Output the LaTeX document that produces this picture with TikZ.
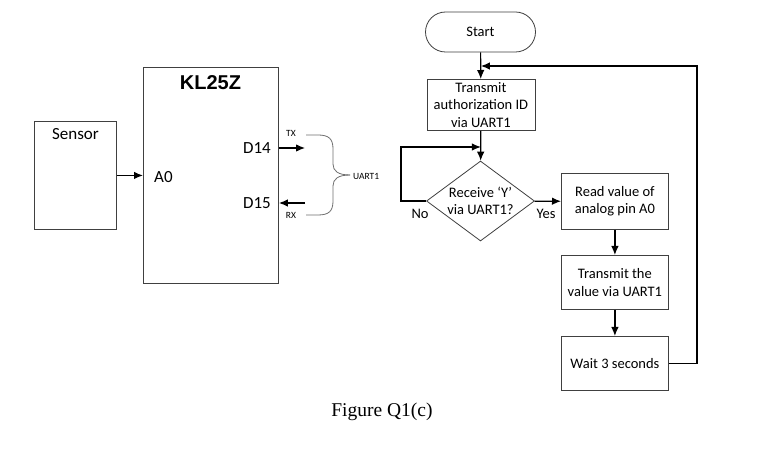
\documentclass[tikz,border=0pt]{standalone}
\usepackage{fontspec}
\setmainfont{Carlito}
\newfontfamily\arialfont{Liberation Sans}
\newfontfamily\timesfont{Liberation Serif}
\usetikzlibrary{arrows.meta,shapes.geometric,calc}
\definecolor{edge}{HTML}{404040}
\definecolor{bracegray}{HTML}{707070}

\begin{document}
\begin{tikzpicture}[
              x=1pt,
              y=-1pt,
              >={Latex[length=9pt,width=7.5pt]},
              hwbox/.style={draw=edge, line width=0.9pt, anchor=north west, inner sep=0pt},
              pinlabel/.style={inner sep=0pt, font=\fontsize{17}{20}\selectfont},
              chiplabel/.style={inner sep=0pt, font=\arialfont\bfseries\fontsize{20}{24}\selectfont},
              siglabel/.style={inner sep=0pt, font=\fontsize{9.5}{11}\selectfont},
              block/.style={draw=edge, line width=0.8pt, anchor=north west, align=center, inner sep=0pt, font=\fontsize{14.5}{17.5}\selectfont},
              terminal/.style={draw=edge, line width=0.8pt, rounded corners=20pt, minimum width=110, minimum height=40, inner sep=0pt, font=\fontsize{14.5}{17.5}\selectfont},
              decision/.style={draw=edge, line width=0.8pt, diamond, aspect=1.35, minimum width=108, minimum height=80, inner sep=-3pt, align=center, font=\fontsize{14.5}{17.5}\selectfont},
              flowlabel/.style={inner sep=0pt, font=\fontsize{14.5}{17.5}\selectfont},
              caption/.style={inner sep=0pt, font=\timesfont\fontsize{19.5}{23}\selectfont},
              arrow/.style={->, line width=1.2pt, color=black},
              bracepath/.style={draw=bracegray, line width=0.8pt}
            ]
            \useasboundingbox[fill=white] (0,0) rectangle (780,457);

            \node[hwbox, minimum width=82, minimum height=108,
                  label={[pinlabel, anchor=north, yshift=-7pt]north:Sensor}] (sensor) at (34,121) {};
            \node[hwbox, minimum width=135, minimum height=216] (mcu) at (143,67) {};
            \node[chiplabel] (mcuname) at (210.5,83) {KL25Z};
            \node[pinlabel, anchor=west] (a0) at (154,177) {A0};
            \node[pinlabel, anchor=east] (d14) at (271,148) {D14};
            \node[pinlabel, anchor=east] (d15) at (271,203) {D15};
            \node[siglabel] (tx) at (291,133) {TX};
            \node[siglabel] (rx) at (291,215) {RX};
            \node[siglabel, anchor=west] (uart) at (353,176) {UART1};

            \coordinate (txend) at (305,148);
            \coordinate (rxstart) at (305,203);

            \draw[arrow] (sensor.east) -- (mcu.west);
            \draw[arrow] (d14.east -| mcu.east) -- (txend);
            \draw[arrow] (rxstart) -- (d15.east -| mcu.east);

            \draw[bracepath] (306,135) -- (318,135) .. controls (329,135) and (333,139) .. (333,149)
              -- (333,164) .. controls (333,171) and (338,175) .. (350,175);
            \draw[bracepath] (306,215) -- (318,215) .. controls (329,215) and (333,211) .. (333,201)
              -- (333,186) .. controls (333,179) and (338,175) .. (350,175);

            \node[terminal] (start) at (480.5,32) {Start};
            \node[block, minimum width=108, minimum height=51] (sendid) at (426.5,79) {Transmit\\authorization ID\\via UART1};
            \node[decision] (recv) at (480.5,201) {Receive ‘Y’\\via UART1?};
            \node[block, minimum width=107, minimum height=56] (readpin) at (561,173) {Read value of\\analog pin A0};
            \node[block, minimum width=107, minimum height=54] (sendval) at (561,255) {Transmit the\\value via UART1};
            \node[block, minimum width=107, minimum height=54] (wait) at (561,336) {Wait 3 seconds};
            \node[flowlabel] (nolabel) at (420,214) {No};
            \node[flowlabel] (yeslabel) at (546,214) {Yes};

            \coordinate (retcorner) at (697,66);
            \coordinate (nocorner) at (401,147);

            \draw[arrow] (start) -- (sendid);
            \draw[arrow] (sendid) -- (recv);
            \draw[arrow] (recv) -- (readpin);
            \draw[arrow] (readpin) -- (sendval);
            \draw[arrow] (sendval) -- (wait);
            \draw[arrow] (wait.east) -| (retcorner) -- (sendid.north |- retcorner);
            \draw[arrow] (recv.west) -| (nocorner) -- (sendid.south |- nocorner);

            \node[caption] (figcap) at (382,412) {Figure Q1(c)};
            \end{tikzpicture}
\end{document}
